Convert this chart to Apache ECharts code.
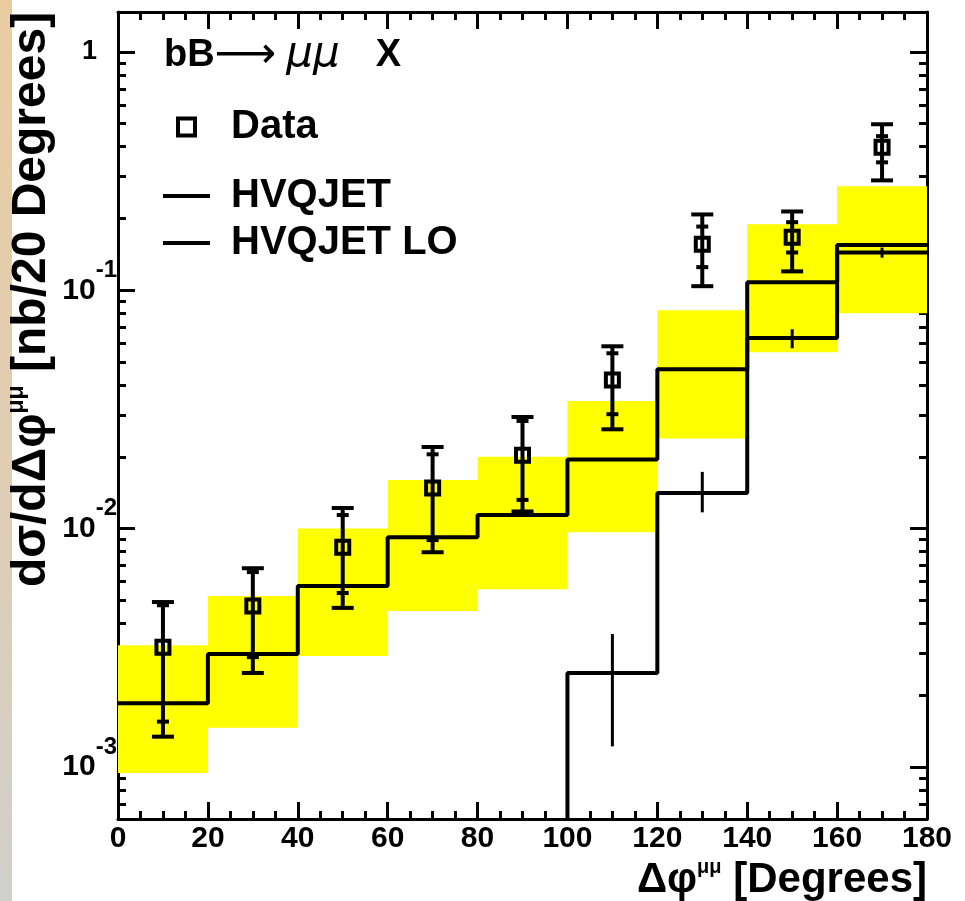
<!DOCTYPE html>
<html>
<head>
<meta charset="utf-8">
<title>bB -> mumu X</title>
<script src="https://cdn.jsdelivr.net/npm/echarts@6.0.0/dist/echarts.min.js"></script>
<style>
  html, body { margin: 0; padding: 0; background: #fff; }
  #chart { width: 965px; height: 901px; }
</style>
</head>
<body>
<div id="chart"></div>
<script>
// bin edges and centres, degrees
const binEdges = [0, 20, 40, 60, 80, 100, 120, 140, 160, 180];
const binCenters = [10, 30, 50, 70, 90, 110, 130, 150, 170];

// data points with stat (inner) and total (outer) errors, nb/20 deg
const dataVal    = [3.18e-3, 4.73e-3, 8.36e-3, 1.48e-2, 2.03e-2, 4.20e-2, 0.156, 0.167, 0.398];
const dataStatLo = [1.55e-3, 2.89e-3, 5.37e-3, 8.95e-3, 1.32e-2, 3.02e-2, 0.125, 0.144, 0.344];
const dataStatHi = [4.77e-3, 6.57e-3, 1.14e-2, 2.05e-2, 2.83e-2, 5.44e-2, 0.185, 0.193, 0.443];
const dataTotLo  = [1.34e-3, 2.48e-3, 4.65e-3, 7.96e-3, 1.18e-2, 2.61e-2, 0.104, 0.120, 0.289];
const dataTotHi  = [4.92e-3, 6.82e-3, 1.22e-2, 2.20e-2, 2.94e-2, 5.82e-2, 0.208, 0.214, 0.497];

// HVQJET (NLO) histogram and its uncertainty band
const nloVal    = [1.85e-3, 2.98e-3, 5.74e-3, 9.20e-3, 1.14e-2, 1.95e-2, 4.66e-2, 0.108, 0.155];
const bandLo    = [9.44e-4, 1.46e-3, 2.92e-3, 4.51e-3, 5.57e-3, 9.66e-3, 2.39e-2, 5.50e-2, 8.01e-2];
const bandHi    = [3.24e-3, 5.21e-3, 1.00e-2, 1.60e-2, 2.00e-2, 3.43e-2, 8.24e-2, 0.189, 0.273];

// HVQJET LO histogram (first bins are below the axis range)
const loVal   = [2e-4, 2e-4, 2e-4, 2e-4, 2e-4, 2.48e-3, 1.41e-2, 6.30e-2, 0.144];
const loErrLo = [null, null, null, null, null, 1.22e-3, 1.17e-2, 5.71e-2, 0.137];
const loErrHi = [null, null, null, null, null, 3.61e-3, 1.73e-2, 6.86e-2, 0.151];

// axis ticks
const xTickLabels = ['0', '20', '40', '60', '80', '100', '120', '140', '160', '180'];
const yMajorTicks = [1e-3, 1e-2, 1e-1, 1];
const yMinorTicks = [7e-4, 8e-4, 9e-4,
  2e-3, 3e-3, 4e-3, 5e-3, 6e-3, 7e-3, 8e-3, 9e-3,
  2e-2, 3e-2, 4e-2, 5e-2, 6e-2, 7e-2, 8e-2, 9e-2,
  0.2, 0.3, 0.4, 0.5, 0.6, 0.7, 0.8, 0.9];
const yMin = 6.05e-4, yMax = 1.47;

const FONT = 'Liberation Sans';
const chart = echarts.init(document.getElementById('chart'));

function stepPoints(vals) {
  return binEdges.map((e, i) => [e, vals[Math.min(i, vals.length - 1)]]);
}

function yLabel(v) {
  if (Math.abs(v - 1) < 1e-9) return '{one|1}';
  return '{b|10}{s|' + Math.round(Math.log10(v)) + '}';
}

const lineX = (extra) => Object.assign({
  type: 'value', min: 0, max: 180, interval: 20,
  axisLine: { show: true, lineStyle: { color: '#000', width: 3 } },
  axisTick: { show: true, inside: true, length: 17, lineStyle: { color: '#000', width: 3 } },
  minorTick: { show: true, splitNumber: 4, length: 8, lineStyle: { color: '#000', width: 3 } },
  splitLine: { show: false }
}, extra);

const logY = (extra) => Object.assign({
  type: 'log', logBase: 10, min: yMin, max: yMax,
  axisLine: { show: false },
  axisTick: { show: true, inside: true, length: 17, customValues: yMajorTicks,
    lineStyle: { color: '#000', width: 3 } },
  axisLabel: { show: false },
  splitLine: { show: false },
  minorTick: { show: false }
}, extra);

const option = {
  backgroundColor: '#fff',
  animation: false,
  grid: { left: 118, right: 38, top: 12, bottom: 82, containLabel: false, outerBoundsMode: 'none' },
  graphic: [
    {
      type: 'rect', left: 0, top: 0, shape: { width: 12, height: 901 }, silent: true,
      style: { fill: new echarts.graphic.LinearGradient(0, 0, 0, 1, [
        { offset: 0, color: '#eacca0' }, { offset: 0.5, color: '#e0cdb3' }, { offset: 1, color: '#d0cfcb' }]) }
    },
    {
      type: 'text', left: 164, top: 34, silent: true,
      style: {
        text: '{a|bB}{r|⟶}{m|μμ}{x|X}',
        rich: {
          a: { fontFamily: FONT, fontWeight: 'bold', fontSize: 38, fill: '#000' },
          r: { fontFamily: 'DejaVu Sans', fontSize: 43, fill: '#000' },
          m: { fontFamily: 'DejaVu Sans', fontStyle: 'italic', fontSize: 42, fill: '#000', padding: [0, 0, 0, 10] },
          x: { fontFamily: FONT, fontWeight: 'bold', fontSize: 38, fill: '#000', padding: [0, 0, 0, 36] }
        }
      }
    }
  ],
  legend: [
    {
      left: 176, top: 107, orient: 'vertical', padding: 0, itemWidth: 47, itemHeight: 17,
      textStyle: { fontFamily: FONT, fontWeight: 'bold', fontSize: 40, color: '#000', lineHeight: 40, padding: [0, 0, 0, 16] },
      data: [{ name: 'Data', icon: 'path://M0,0H10V10H0Z',
        itemStyle: { color: 'transparent', borderColor: '#000', borderWidth: 4 } }]
    },
    {
      left: 163, top: 176, orient: 'vertical', padding: 0, itemWidth: 47, itemHeight: 4, itemGap: 7,
      textStyle: { fontFamily: FONT, fontWeight: 'bold', fontSize: 40, color: '#000', lineHeight: 40, padding: [0, 0, 0, 16] },
      data: [
        { name: 'HVQJET', icon: 'rect', itemStyle: { color: '#000' } },
        { name: 'HVQJET LO', icon: 'rect', itemStyle: { color: '#000' } }
      ]
    }
  ],
  xAxis: [
    lineX({
      position: 'bottom',
      axisLabel: { show: true, margin: 5, color: '#000', fontFamily: FONT, fontWeight: 'bold', fontSize: 30,
        formatter: (v) => xTickLabels[Math.round(v / 20)] },
      name: '{a|Δφ}{s|μμ}{a| [Degrees]}', nameLocation: 'end', nameGap: 0,
      nameTextStyle: {
        align: 'right', verticalAlign: 'top', padding: [38, 0, 0, 0],
        rich: {
          a: { fontFamily: FONT, fontWeight: 'bold', fontSize: 42, color: '#000' },
          s: { fontFamily: FONT, fontWeight: 'bold', fontSize: 20, color: '#000', padding: [0, 0, 26, 0] }
        }
      }
    }),
    lineX({ position: 'top', axisLabel: { show: false } })
  ],
  yAxis: [
    logY({
      position: 'left',
      axisLine: { show: true, lineStyle: { color: '#000', width: 3 } },
      axisLabel: {
        show: true, margin: 1, customValues: yMajorTicks, formatter: yLabel,
        rich: {
          b: { fontFamily: FONT, fontWeight: 'bold', fontSize: 30, color: '#000' },
          s: { fontFamily: FONT, fontWeight: 'bold', fontSize: 24, color: '#000', padding: [0, 0, 40, 0] },
          one: { fontFamily: FONT, fontWeight: 'bold', fontSize: 27, color: '#000', padding: [0, 20, 0, 0] }
        }
      },
      name: '{a|dσ/dΔφ}{s|μμ}{a| [nb/20 Degrees]}', nameLocation: 'middle', nameGap: 60, nameRotate: 90,
      nameMoveOverlap: false,
      nameTextStyle: {
        padding: [0, 0, 0, 232],
        rich: {
          a: { fontFamily: FONT, fontWeight: 'bold', fontSize: 48, color: '#000' },
          s: { fontFamily: FONT, fontWeight: 'bold', fontSize: 23, color: '#000', padding: [0, 0, 30, 0] }
        }
      }
    }),
    logY({ position: 'left', axisTick: { show: true, inside: true, length: 8, customValues: yMinorTicks,
      lineStyle: { color: '#000', width: 3 } } }),
    logY({ position: 'right', axisLine: { show: true, lineStyle: { color: '#000', width: 3 } } }),
    logY({ position: 'right', axisTick: { show: true, inside: true, length: 8, customValues: yMinorTicks,
      lineStyle: { color: '#000', width: 3 } } })
  ],
  series: [
    {
      name: 'band', type: 'custom', xAxisIndex: 0, yAxisIndex: 0, z: 1, silent: true,
      data: binCenters.map((c, i) => [binEdges[i], binEdges[i + 1], bandLo[i], bandHi[i]]),
      encode: { x: [0, 1], y: [2, 3] },
      renderItem: (params, api) => {
        const p0 = api.coord([api.value(0), api.value(3)]);
        const p1 = api.coord([api.value(1), api.value(2)]);
        const cs = params.coordSys;
        const r = echarts.graphic.clipRectByRect(
          { x: p0[0], y: p0[1], width: p1[0] - p0[0], height: p1[1] - p0[1] },
          { x: cs.x, y: cs.y, width: cs.width, height: cs.height });
        return r && { type: 'rect', shape: r, style: { fill: '#ffff00' } };
      }
    },
    {
      name: 'HVQJET', type: 'line', step: 'end', symbol: 'none', z: 3, color: '#000',
      data: stepPoints(nloVal), lineStyle: { color: '#000', width: 4 }
    },
    {
      name: 'HVQJET LO', type: 'line', step: 'end', symbol: 'none', z: 3, color: '#000', clip: true,
      data: stepPoints(loVal), lineStyle: { color: '#000', width: 4 }
    },
    {
      name: 'loErr', type: 'custom', z: 4, silent: true,
      data: binCenters.map((c, i) => [c, loErrLo[i], loErrHi[i]]).filter(d => d[1] !== null),
      encode: { x: 0, y: [1, 2] },
      renderItem: (params, api) => {
        const a = api.coord([api.value(0), api.value(1)]);
        const b = api.coord([api.value(0), api.value(2)]);
        return { type: 'line', shape: { x1: a[0], y1: a[1], x2: b[0], y2: b[1] },
          style: { stroke: '#000', lineWidth: 3 } };
      }
    },
    {
      name: 'Data', type: 'custom', z: 5, color: '#000',
      data: binCenters.map((c, i) => [c, dataVal[i], dataStatLo[i], dataStatHi[i], dataTotLo[i], dataTotHi[i]]),
      encode: { x: 0, y: [1, 4, 5] },
      renderItem: (params, api) => {
        const x = api.value(0);
        const c = api.coord([x, api.value(1)]);
        const sLo = api.coord([x, api.value(2)])[1];
        const sHi = api.coord([x, api.value(3)])[1];
        const tLo = api.coord([x, api.value(4)])[1];
        const tHi = api.coord([x, api.value(5)])[1];
        const st = { stroke: '#000', lineWidth: 4, fill: null };
        const cap = (y, hw) => ({ type: 'line', shape: { x1: c[0] - hw, y1: y, x2: c[0] + hw, y2: y }, style: st });
        return {
          type: 'group',
          children: [
            { type: 'line', shape: { x1: c[0], y1: tHi, x2: c[0], y2: tLo }, style: st },
            cap(tHi, 11), cap(tLo, 11), cap(sHi, 6), cap(sLo, 6),
            { type: 'rect', shape: { x: c[0] - 6.5, y: c[1] - 6.5, width: 13, height: 13 },
              style: { stroke: '#000', lineWidth: 4, fill: 'none' } }
          ]
        };
      }
    }
  ]
};

chart.setOption(option);
</script>
</body>
</html>
